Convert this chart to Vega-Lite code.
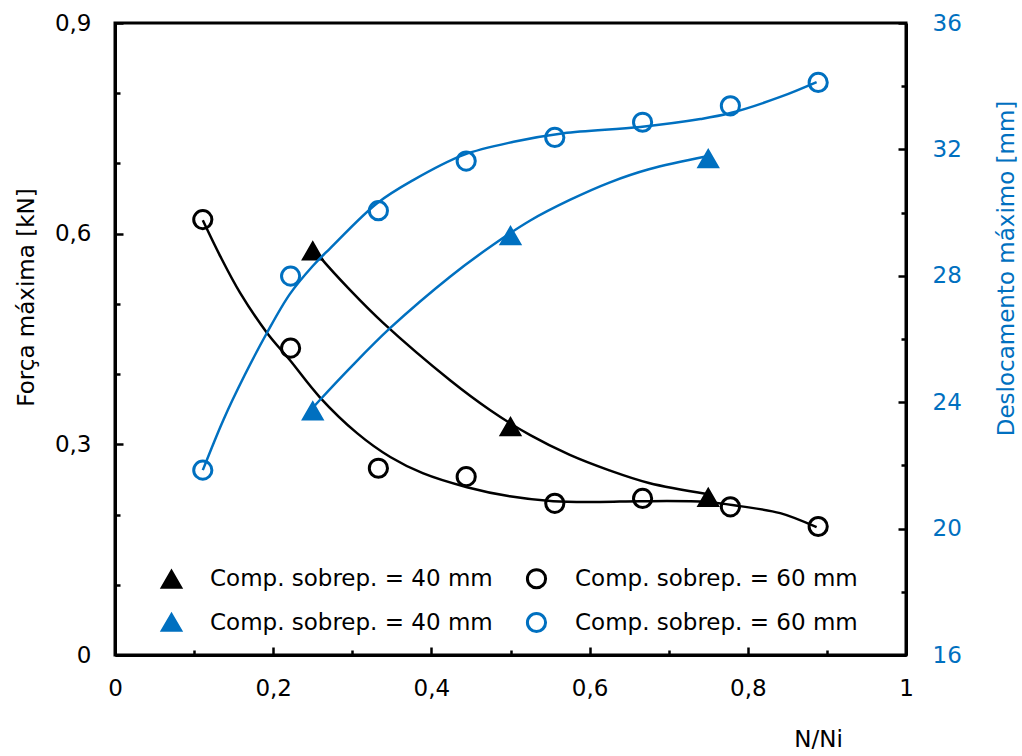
{
  "$schema": "https://vega.github.io/schema/vega-lite/v6.json",
  "width": 791,
  "height": 632,
  "autosize": {"type": "none"},
  "padding": {"left": 115, "top": 23, "right": 116, "bottom": 101},
  "background": "white",
  "config": {
    "font": "DejaVu Sans",
    "view": {"stroke": "black", "strokeWidth": 3},
    "axis": {
      "grid": false,
      "domainColor": "black",
      "domainWidth": 3,
      "tickColor": "black",
      "tickWidth": 2.5,
      "labelFontSize": 23,
      "labelColor": "black",
      "titleFontSize": 23,
      "titleFontWeight": "normal",
      "titleColor": "black"
    },
    "legend": {
      "orient": "none",
      "legendX": 45,
      "legendY": 544,
      "columns": 2,
      "columnPadding": 28,
      "rowPadding": 13,
      "padding": 0,
      "labelFontSize": 23,
      "labelColor": "black",
      "labelLimit": 500,
      "labelOffset": 27,
      "symbolStrokeWidth": 3
    }
  },
  "datasets": {
    "force_curve": [
      {"x": 0.111, "y": 0.619, "s": "k60"}, {"x": 0.133, "y": 0.568, "s": "k60"}, {"x": 0.158, "y": 0.516, "s": "k60"},
      {"x": 0.192, "y": 0.459, "s": "k60"}, {"x": 0.221, "y": 0.42, "s": "k60"}, {"x": 0.259, "y": 0.367, "s": "k60"},
      {"x": 0.306, "y": 0.316, "s": "k60"}, {"x": 0.348, "y": 0.282, "s": "k60"}, {"x": 0.389, "y": 0.259, "s": "k60"},
      {"x": 0.445, "y": 0.239, "s": "k60"}, {"x": 0.499, "y": 0.226, "s": "k60"}, {"x": 0.554, "y": 0.219, "s": "k60"},
      {"x": 0.613, "y": 0.218, "s": "k60"}, {"x": 0.664, "y": 0.219, "s": "k60"}, {"x": 0.748, "y": 0.218, "s": "k60"},
      {"x": 0.79, "y": 0.212, "s": "k60"}, {"x": 0.841, "y": 0.202, "s": "k60"}, {"x": 0.887, "y": 0.182, "s": "k60"},
      {"x": 0.25, "y": 0.58, "s": "k40"}, {"x": 0.259, "y": 0.567, "s": "k40"}, {"x": 0.297, "y": 0.52, "s": "k40"},
      {"x": 0.339, "y": 0.473, "s": "k40"}, {"x": 0.424, "y": 0.391, "s": "k40"}, {"x": 0.474, "y": 0.349, "s": "k40"},
      {"x": 0.525, "y": 0.313, "s": "k40"}, {"x": 0.575, "y": 0.285, "s": "k40"}, {"x": 0.625, "y": 0.263, "s": "k40"},
      {"x": 0.675, "y": 0.245, "s": "k40"}, {"x": 0.75, "y": 0.229, "s": "k40"}
    ],
    "force_pts": [
      {"x": 0.25, "y": 0.575, "s": "k40"}, {"x": 0.5, "y": 0.325, "s": "k40"}, {"x": 0.75, "y": 0.224, "s": "k40"},
      {"x": 0.111, "y": 0.62, "s": "k60"}, {"x": 0.222, "y": 0.437, "s": "k60"}, {"x": 0.333, "y": 0.266, "s": "k60"},
      {"x": 0.444, "y": 0.254, "s": "k60"}, {"x": 0.556, "y": 0.216, "s": "k60"}, {"x": 0.667, "y": 0.223, "s": "k60"},
      {"x": 0.778, "y": 0.211, "s": "k60"}, {"x": 0.889, "y": 0.183, "s": "k60"}
    ],
    "disp_curve": [
      {"x": 0.111, "y": 21.85, "s": "b60"}, {"x": 0.137, "y": 23.44, "s": "b60"}, {"x": 0.164, "y": 24.86, "s": "b60"},
      {"x": 0.192, "y": 26.19, "s": "b60"}, {"x": 0.221, "y": 27.42, "s": "b60"}, {"x": 0.25, "y": 28.31, "s": "b60"},
      {"x": 0.272, "y": 28.87, "s": "b60"}, {"x": 0.331, "y": 30.29, "s": "b60"}, {"x": 0.377, "y": 31.03, "s": "b60"},
      {"x": 0.44, "y": 31.82, "s": "b60"}, {"x": 0.504, "y": 32.24, "s": "b60"}, {"x": 0.567, "y": 32.51, "s": "b60"},
      {"x": 0.664, "y": 32.71, "s": "b60"}, {"x": 0.74, "y": 32.96, "s": "b60"}, {"x": 0.778, "y": 33.15, "s": "b60"},
      {"x": 0.841, "y": 33.66, "s": "b60"}, {"x": 0.887, "y": 34.13, "s": "b60"},
      {"x": 0.25, "y": 23.82, "s": "b40"}, {"x": 0.259, "y": 24.07, "s": "b40"}, {"x": 0.297, "y": 25.08, "s": "b40"},
      {"x": 0.348, "y": 26.35, "s": "b40"}, {"x": 0.424, "y": 27.98, "s": "b40"}, {"x": 0.474, "y": 28.91, "s": "b40"},
      {"x": 0.525, "y": 29.75, "s": "b40"}, {"x": 0.575, "y": 30.4, "s": "b40"}, {"x": 0.625, "y": 30.95, "s": "b40"},
      {"x": 0.675, "y": 31.37, "s": "b40"}, {"x": 0.75, "y": 31.79, "s": "b40"}
    ],
    "disp_pts": [
      {"x": 0.25, "y": 23.72, "s": "b40"}, {"x": 0.5, "y": 29.26, "s": "b40"}, {"x": 0.75, "y": 31.7, "s": "b40"},
      {"x": 0.111, "y": 21.85, "s": "b60"}, {"x": 0.222, "y": 27.99, "s": "b60"}, {"x": 0.333, "y": 30.06, "s": "b60"},
      {"x": 0.444, "y": 31.63, "s": "b60"}, {"x": 0.556, "y": 32.38, "s": "b60"}, {"x": 0.667, "y": 32.86, "s": "b60"},
      {"x": 0.778, "y": 33.38, "s": "b60"}, {"x": 0.889, "y": 34.12, "s": "b60"}
    ]
  },
  "layer": [
    {
      "layer": [
        {
          "data": {"name": "force_curve"},
          "mark": {"type": "line", "color": "black", "strokeWidth": 2.5, "interpolate": "catmull-rom"},
          "encoding": {
            "x": {
              "field": "x", "type": "quantitative",
              "scale": {"domain": [0, 1], "nice": false, "zero": false},
              "axis": {
                "orient": "bottom",
                "values": [0, 0.05, 0.1, 0.15, 0.2, 0.25, 0.3, 0.35, 0.4, 0.45, 0.5, 0.55, 0.6, 0.65, 0.7, 0.75, 0.8, 0.85, 0.9, 0.95, 1],
                "labelExpr": "abs(datum.value*5 - round(datum.value*5)) < 0.001 ? (datum.value == 0 ? '0' : datum.value == 1 ? '1' : replace(format(datum.value, '.1f'), '.', ',')) : ''",
                "tickSize": {"condition": {"test": "abs(datum.value*5 - round(datum.value*5)) < 0.001", "value": -8}, "value": -5},
                "labelPadding": 30,
                "labelFlush": false,
                "labelOverlap": false,
                "title": "N/Ni",
                "titleAlign": "center",
                "titleBaseline": "alphabetic",
                "titleX": 703,
                "titleY": 91
              }
            },
            "y": {
              "field": "y", "type": "quantitative",
              "scale": {"domain": [0, 0.9], "nice": false},
              "axis": {
                "orient": "left",
                "values": [0, 0.1, 0.2, 0.3, 0.4, 0.5, 0.6, 0.7, 0.8, 0.9],
                "labelExpr": "abs(datum.value/0.3 - round(datum.value/0.3)) < 0.001 ? (datum.value == 0 ? '0' : replace(format(datum.value, '.1f'), '.', ',')) : ''",
                "tickSize": {"condition": {"test": "abs(datum.value/0.3 - round(datum.value/0.3)) < 0.001", "value": -8}, "value": -5},
                "labelPadding": 32,
                "labelFlush": false,
                "labelOverlap": false,
                "title": "Força máxima [kN]",
                "titleAngle": 270,
                "titleAlign": "center",
                "titleBaseline": "alphabetic",
                "titleX": -82,
                "titleY": 274
              }
            },
            "detail": {"field": "s"}
          }
        },
        {
          "data": {"name": "force_pts"},
          "mark": {"type": "point", "strokeWidth": 3, "opacity": 1},
          "encoding": {
            "x": {"field": "x", "type": "quantitative"},
            "y": {"field": "y", "type": "quantitative"},
            "shape": {"field": "s", "type": "nominal", "scale": {"domain": ["k40", "b40", "k60", "b60"], "range": ["triangle-up", "triangle-up", "circle", "circle"]}, "legend": {"title": null, "labelExpr": "'Comp. sobrep. = ' + (indexof(datum.label, '40') >= 0 ? '40' : '60') + ' mm'"}},
            "fill": {"field": "s", "type": "nominal", "scale": {"domain": ["k40", "b40", "k60", "b60"], "range": ["black", "#0070C0", "transparent", "transparent"]}, "legend": {"title": null, "labelExpr": "'Comp. sobrep. = ' + (indexof(datum.label, '40') >= 0 ? '40' : '60') + ' mm'"}},
            "stroke": {"field": "s", "type": "nominal", "scale": {"domain": ["k40", "b40", "k60", "b60"], "range": ["black", "#0070C0", "black", "#0070C0"]}, "legend": {"title": null, "labelExpr": "'Comp. sobrep. = ' + (indexof(datum.label, '40') >= 0 ? '40' : '60') + ' mm'"}},
            "size": {"field": "s", "type": "nominal", "scale": {"domain": ["k40", "b40", "k60", "b60"], "range": [330, 330, 177, 177]}, "legend": {"title": null, "labelExpr": "'Comp. sobrep. = ' + (indexof(datum.label, '40') >= 0 ? '40' : '60') + ' mm'"}}
          }
        }
      ]
    },
    {
      "layer": [
        {
          "data": {"name": "disp_curve"},
          "mark": {"type": "line", "color": "#0070C0", "strokeWidth": 2.5, "interpolate": "catmull-rom"},
          "encoding": {
            "x": {"field": "x", "type": "quantitative"},
            "y": {
              "field": "y", "type": "quantitative",
              "scale": {"domain": [16, 36], "nice": false, "zero": false},
              "axis": {
                "orient": "right",
                "values": [16, 18, 20, 22, 24, 26, 28, 30, 32, 34, 36],
                "labelExpr": "datum.value % 4 == 0 ? format(datum.value, 'd') : ''",
                "tickSize": {"condition": {"test": "datum.value % 4 == 0", "value": -8}, "value": -5},
                "labelPadding": 34,
                "labelColor": "#0070C0",
                "labelFlush": false,
                "labelOverlap": false,
                "title": "Deslocamento máximo [mm]",
                "titleColor": "#0070C0",
                "titleAngle": 270,
                "titleAlign": "center",
                "titleBaseline": "alphabetic",
                "titleX": 107,
                "titleY": 245
              }
            },
            "detail": {"field": "s"}
          }
        },
        {
          "data": {"name": "disp_pts"},
          "mark": {"type": "point", "strokeWidth": 3, "opacity": 1},
          "encoding": {
            "x": {"field": "x", "type": "quantitative"},
            "y": {"field": "y", "type": "quantitative"},
            "shape": {"field": "s", "type": "nominal", "scale": {"domain": ["k40", "b40", "k60", "b60"], "range": ["triangle-up", "triangle-up", "circle", "circle"]}, "legend": {"title": null, "labelExpr": "'Comp. sobrep. = ' + (indexof(datum.label, '40') >= 0 ? '40' : '60') + ' mm'"}},
            "fill": {"field": "s", "type": "nominal", "scale": {"domain": ["k40", "b40", "k60", "b60"], "range": ["black", "#0070C0", "transparent", "transparent"]}, "legend": {"title": null, "labelExpr": "'Comp. sobrep. = ' + (indexof(datum.label, '40') >= 0 ? '40' : '60') + ' mm'"}},
            "stroke": {"field": "s", "type": "nominal", "scale": {"domain": ["k40", "b40", "k60", "b60"], "range": ["black", "#0070C0", "black", "#0070C0"]}, "legend": {"title": null, "labelExpr": "'Comp. sobrep. = ' + (indexof(datum.label, '40') >= 0 ? '40' : '60') + ' mm'"}},
            "size": {"field": "s", "type": "nominal", "scale": {"domain": ["k40", "b40", "k60", "b60"], "range": [330, 330, 177, 177]}, "legend": {"title": null, "labelExpr": "'Comp. sobrep. = ' + (indexof(datum.label, '40') >= 0 ? '40' : '60') + ' mm'"}}
          }
        }
      ]
    }
  ],
  "resolve": {"scale": {"y": "independent"}}
}
